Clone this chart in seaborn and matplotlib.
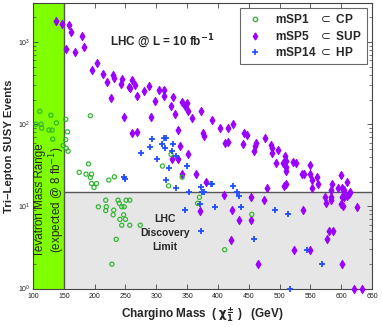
import matplotlib
matplotlib.use("Agg")
import matplotlib.pyplot as plt
import seaborn as sns
import pandas as pd
from matplotlib.lines import Line2D

# ---------------- data ----------------
msp1_mass = [111, 129, 105, 113, 114, 138, 126, 131, 132, 153, 156, 153, 149, 154, 157,
             193, 190, 175, 186, 195, 193, 195, 203, 199, 223, 232, 206, 218, 219, 218,
             231, 230, 238, 240, 244, 248, 251, 257, 247, 241, 250, 244, 257, 274, 235,
             228, 310, 324, 342, 320, 370, 367, 455, 411]
msp1_events = [144, 129, 100, 100, 90, 104, 85, 85, 66, 115, 81, 65, 55, 51, 47,
               127, 33, 26, 24.7, 24.7, 22.5, 19, 19, 17, 20.9, 22.9, 9.9, 11.9, 9.9, 8.9,
               9.0, 7.9, 11.9, 10.9, 9.9, 9.9, 11.9, 11.9, 7.9, 6.95, 6.95, 5.9, 5.9, 5.9, 3.97,
               1.98, 31, 43, 22.7, 17.8, 12.9, 10.9, 8.0, 2.97]

msp5_mass = [138, 147, 159, 162, 179, 154, 168, 182, 204, 196, 213, 229, 231, 244, 220,
             242, 261, 256, 258, 265, 227, 269, 280, 289, 298, 304, 312, 312, 327, 324,
             330, 342, 350, 347, 352, 358, 247, 292, 261, 269, 335, 339, 351, 336, 326,
             373, 391, 404, 417, 425, 376, 377, 443, 448, 411, 417, 441, 460, 462, 459,
             476, 486, 487, 488, 497, 509, 511, 510, 510, 495, 505, 522, 526, 549, 537,
             540, 550, 552, 560, 562, 553, 508, 510, 480, 600, 609, 585, 595, 602, 605,
             614, 612, 609, 583, 574, 583, 583, 576, 601, 605, 600, 603, 625, 474, 538,
             581, 587, 577, 524, 549, 602, 621, 633, 365, 341, 381, 410, 453, 423, 371,
             434, 454, 422, 465]
msp5_events = [1796, 1651, 1637, 1320, 1189, 820, 769, 884, 565, 459, 407, 396, 371, 357, 325,
               307, 351, 285, 273, 305, 210, 222, 253, 291, 193, 265, 260, 220, 212, 166,
               132, 189, 181, 168, 145, 118, 121, 122, 77.5, 81.3, 84.3, 54.2, 43.9, 38.2, 37.6,
               144, 114, 91.4, 88.9, 101, 77.3, 72.3, 77.3, 73.7, 58.4, 61.1, 57.3, 54.6, 58.4, 47.1,
               68.1, 56.2, 51.6, 45.1, 48.9, 40.7, 35.3, 30.5, 26.7, 33.9, 33.9, 34.8, 34.1, 32.0, 24.9,
               24.9, 24.9, 20.9, 22.9, 18.9, 16.9, 17.9, 18.7, 16.8, 23.9, 19.9, 18.9, 16.9, 16.9, 15.7,
               14.9, 14.2, 13.5, 15.8, 13.1, 13.1, 11.9, 10.9, 12.9, 13.1, 10.8, 10.1, 9.94, 11.9, 8.94,
               4.97, 4.97, 3.97, 2.97, 2.97, 1.97, 1.0, 1.0, 24.9, 24.9, 19.9, 13.8, 12.9, 8.97, 8.82,
               6.91, 6.91, 3.95, 1.98]

msp14_mass = [293, 290, 276, 309, 312, 315, 327, 314, 325, 332, 301, 320, 350, 315, 332,
              353, 247, 250, 373, 375, 378, 389, 391, 371, 395, 346, 425, 431, 434, 437,
              372, 459, 492, 513, 545, 569, 517]
msp14_events = [65.5, 52.4, 45.3, 56.8, 68.7, 67.2, 57.3, 50.8, 47.1, 41.5, 37.6, 29.0, 31.1, 21.2, 16.9,
                15.0, 22.7, 21.8, 17.0, 15.1, 14.9, 18.9, 18.5, 10.8, 9.94, 8.94, 17.9, 15.1, 13.3, 9.94,
                4.98, 3.98, 8.94, 8.0, 2.98, 1.97, 1.0]

series_labels = ["mSP1", "mSP5", "mSP14"]
class_labels = ["CP", "SUP", "HP"]
x_ticks = [100, 150, 200, 250, 300, 350, 400, 450, 500, 550, 600, 650]
tevatron_range = [100, 150]
discovery_limit = 15

# ---------------- style ----------------
sns.set_style("ticks")
plt.rcParams["font.family"] = ["Liberation Sans", "DejaVu Sans"]
plt.rcParams["mathtext.fontset"] = "dejavusans"

GREEN = "#2db52d"
PURPLE = "#9a00ff"
BLUE = "#1f4fff"
BAND = "#7fff00"
GRAY = "#e6e6e6"
LINE = "#555555"

fig = plt.figure(figsize=(3.82, 3.27), dpi=100)
ax = fig.add_axes([0.0864, 0.1177, 0.8874, 0.8731])

# background regions
ax.axvspan(tevatron_range[0], tevatron_range[1], color=BAND, zorder=0, lw=0)
ax.fill_between([tevatron_range[1], 650], 1, discovery_limit, color=GRAY, zorder=0, lw=0)
ax.plot([tevatron_range[1], 650], [discovery_limit, discovery_limit], color=LINE, lw=1.0, zorder=1)
ax.axvline(tevatron_range[1], color=LINE, lw=1.0, zorder=1)

df1 = pd.DataFrame({"mass": msp1_mass, "events": msp1_events})
df5 = pd.DataFrame({"mass": msp5_mass, "events": msp5_events})
df14 = pd.DataFrame({"mass": msp14_mass, "events": msp14_events})

sns.scatterplot(data=df5, x="mass", y="events", ax=ax, marker="d", s=17,
                color=PURPLE, edgecolor=PURPLE, linewidth=0.8, zorder=3, clip_on=False)
sns.scatterplot(data=df1, x="mass", y="events", ax=ax, marker="o", s=9,
                facecolors="none", edgecolors=GREEN, linewidth=0.85, zorder=4, clip_on=False)
sns.scatterplot(data=df14, x="mass", y="events", ax=ax, marker="+", s=24,
                color=BLUE, linewidth=1.3, zorder=5, clip_on=False)

ax.set_yscale("log")
ax.set_xlim(100, 650)
ax.set_ylim(1, 3000)
ax.set_xticks(x_ticks)
ax.set_xticklabels([str(t) for t in x_ticks])

ax.tick_params(which="both", direction="in", top=True, right=True,
               labelsize=5, color="#444444", labelcolor="#222222")
ax.tick_params(axis="x", which="major", pad=3)
ax.tick_params(axis="y", which="major", pad=2)
ax.tick_params(which="major", length=3.5, width=0.6)
ax.tick_params(which="minor", length=2, width=0.5)
for sp in ax.spines.values():
    sp.set_color("#444444")
    sp.set_linewidth(0.8)

ax.set_xlabel(r"Chargino Mass  ( $\mathbf{\chi_1^{\pm}}$ )   (GeV)", fontsize=8.5,
              fontweight="bold", labelpad=4)
ax.set_ylabel("Tri\u2013Lepton SUSY Events", fontsize=8.2, fontweight="bold", labelpad=3)

# annotations
ax.text(0.227, 0.862, r"LHC @ L = 10 fb$^{\mathbf{-1}}$", transform=ax.transAxes,
        fontsize=8.5, fontweight="bold", ha="left", va="center")
ax.text(314, 0.196, "LHC\nDiscovery\nLimit", transform=ax.get_xaxis_transform(),
        fontsize=7.5, fontweight="bold", ha="center", va="center", linespacing=1.5)
ax.text(128.5, 0.31, "Tevatron Mass Range\n(expected @ 8 fb$^{-1}$)",
        transform=ax.get_xaxis_transform(), rotation=90, fontsize=8.4,
        ha="center", va="center", linespacing=1.05)

# legend
handles = [
    Line2D([], [], ls="", marker="o", mfc="none", mec=GREEN, mew=0.9, ms=3.2),
    Line2D([], [], ls="", marker="d", mfc=PURPLE, mec=PURPLE, ms=3.5),
    Line2D([], [], ls="", marker="+", mec=BLUE, mew=1.2, ms=5),
]
pad = ["   ", "   ", " "]
labels = [f"{s}{p}$\\subset$ {c}" for s, p, c in zip(series_labels, pad, class_labels)]
leg = ax.legend(handles, labels, loc="upper right", frameon=True, fancybox=False,
                prop={"weight": "bold", "size": 8.6}, handletextpad=0.9, handlelength=1.6,
                borderpad=0.4, labelspacing=0.3, borderaxespad=0.45)
leg.get_frame().set_edgecolor("#444444")
leg.get_frame().set_linewidth(0.8)

fig.savefig("out.png", dpi=100)
